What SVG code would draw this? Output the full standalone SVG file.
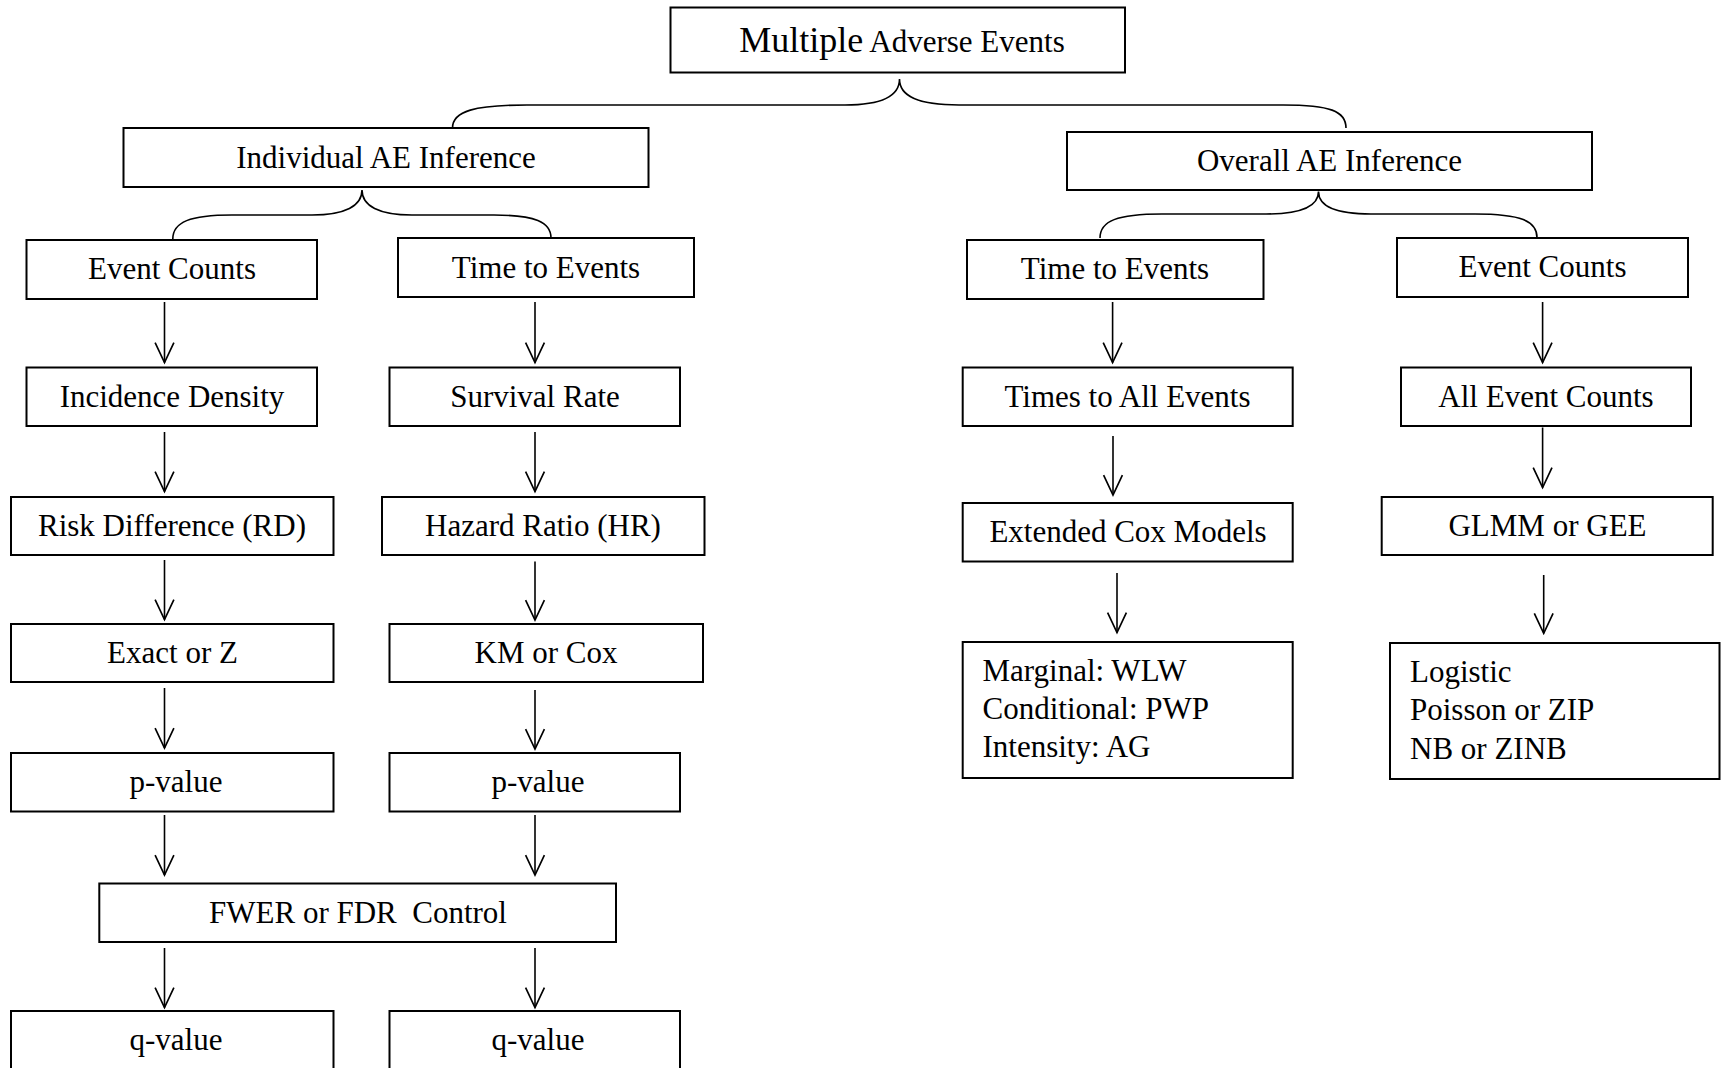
<svg xmlns="http://www.w3.org/2000/svg" width="1721" height="1068" viewBox="0 0 1721 1068">
<style>
.box{fill:#fff;stroke:#000;stroke-width:2}
.t{font-family:"Liberation Serif","Times New Roman",serif;font-size:31px;fill:#000;text-anchor:middle}
.tl{font-family:"Liberation Serif","Times New Roman",serif;font-size:31px;fill:#000}
.c{fill:none;stroke:#000;stroke-width:1.6}
</style>
<defs>
<marker id="ah" markerUnits="userSpaceOnUse" markerWidth="24" markerHeight="24" viewBox="-21 -11 23 22" refX="0" refY="0" orient="auto">
<path d="M-19,-9 L0,0 L-19,9" fill="none" stroke="#000" stroke-width="1.6"/>
</marker>
</defs>
<rect width="1721" height="1068" fill="#fff"/>
<g id="connectors">
<path class="c" d="M452.5 128 C452.5 111 475 105 527 105 L845 105 C882 105 899.5 96 899.5 79 C899.5 96 917 105 959 105 L1283 105 C1330 105 1346 111 1346 128"/>
<path class="c" d="M172.8 239 C172.8 222 190 215 232 215 L312 215 C345 215 362 206 362 190 C362 206 379 215 412 215 L494 215 C535 215 551 222 551 238"/>
<path class="c" d="M1100 238 C1100 221 1117 214 1162 214 L1266 214 C1301 214 1318.5 206 1318.5 191.5 C1318.5 206 1336 214 1371 214 L1475 214 C1521 214 1537 221 1537 237.7"/>
<g marker-end="url(#ah)" class="c">
<line x1="164.5" y1="302" x2="164.5" y2="362.5"/>
<line x1="164.5" y1="432" x2="164.5" y2="491.5"/>
<line x1="164.5" y1="560" x2="164.5" y2="619.5"/>
<line x1="164.5" y1="688" x2="164.5" y2="748"/>
<line x1="164.5" y1="815" x2="164.5" y2="875"/>
<line x1="164.5" y1="948" x2="164.5" y2="1007.5"/>
<line x1="535" y1="302" x2="535" y2="362.5"/>
<line x1="535" y1="432" x2="535" y2="491.5"/>
<line x1="535" y1="561.5" x2="535" y2="620"/>
<line x1="535" y1="690" x2="535" y2="749"/>
<line x1="535" y1="815" x2="535" y2="875"/>
<line x1="535" y1="948" x2="535" y2="1007.5"/>
<line x1="1112.6" y1="302" x2="1112.6" y2="362.5"/>
<line x1="1113" y1="436" x2="1113" y2="495"/>
<line x1="1117" y1="573" x2="1117" y2="632.5"/>
<line x1="1542.6" y1="302" x2="1542.6" y2="362.5"/>
<line x1="1542.6" y1="427.5" x2="1542.6" y2="487.5"/>
<line x1="1543.7" y1="575" x2="1543.7" y2="633.3"/>
</g>
</g>
<g id="n-root"><rect class="box" x="670.5" y="7.5" width="454.5" height="65"/><text class="t" x="902" y="52"><tspan font-size="36">Multiple</tspan> Adverse Events</text></g>
<g id="n-individual"><rect class="box" x="123.5" y="128" width="525" height="59"/><text class="t" x="386" y="168">Individual AE Inference</text></g>
<g id="n-overall"><rect class="box" x="1067" y="132" width="525" height="58"/><text class="t" x="1329.5" y="171">Overall AE Inference</text></g>
<g id="n-ec-l"><rect class="box" x="26.5" y="240" width="290.5" height="59"/><text class="t" x="172" y="279">Event Counts</text></g>
<g id="n-te-l"><rect class="box" x="398" y="238" width="296" height="59"/><text class="t" x="546" y="277.5">Time to Events</text></g>
<g id="n-te-r"><rect class="box" x="967" y="240" width="296.5" height="59"/><text class="t" x="1115" y="279">Time to Events</text></g>
<g id="n-ec-r"><rect class="box" x="1397" y="238" width="291" height="59"/><text class="t" x="1542.5" y="277">Event Counts</text></g>
<g id="n-incid"><rect class="box" x="26.5" y="367.5" width="290.5" height="58.5"/><text class="t" x="172" y="406.5">Incidence Density</text></g>
<g id="n-surv"><rect class="box" x="389.5" y="367.5" width="290.5" height="58.5"/><text class="t" x="535" y="406.5">Survival Rate</text></g>
<g id="n-times"><rect class="box" x="962.7" y="367.5" width="330" height="58.5"/><text class="t" x="1127.5" y="406.5">Times to All Events</text></g>
<g id="n-allec"><rect class="box" x="1401" y="367.5" width="290" height="58.5"/><text class="t" x="1546" y="406.5">All Event Counts</text></g>
<g id="n-rd"><rect class="box" x="11" y="497" width="322.5" height="58"/><text class="t" x="172" y="536">Risk Difference (RD)</text></g>
<g id="n-hr"><rect class="box" x="382" y="497" width="322.5" height="58"/><text class="t" x="543" y="536">Hazard Ratio (HR)</text></g>
<g id="n-cox"><rect class="box" x="962.7" y="503" width="330" height="58.5"/><text class="t" x="1128" y="542">Extended Cox Models</text></g>
<g id="n-glmm"><rect class="box" x="1381.7" y="497" width="331" height="58"/><text class="t" x="1547.5" y="536">GLMM or GEE</text></g>
<g id="n-exact"><rect class="box" x="11" y="624" width="322.5" height="58"/><text class="t" x="172.5" y="663">Exact or Z</text></g>
<g id="n-km"><rect class="box" x="389.5" y="624" width="313.5" height="58"/><text class="t" x="546" y="663">KM or Cox</text></g>
<g id="n-marg"><rect class="box" x="962.7" y="642" width="330" height="136"/><text class="tl" x="982.5" y="681">Marginal: WLW</text><text class="tl" x="982.5" y="719">Conditional: PWP</text><text class="tl" x="982.5" y="757">Intensity: AG</text></g>
<g id="n-logit"><rect class="box" x="1390" y="643" width="329.5" height="136"/><text class="tl" x="1410" y="682">Logistic</text><text class="tl" x="1410" y="720">Poisson or ZIP</text><text class="tl" x="1410" y="758.5">NB or ZINB</text></g>
<g id="n-p-l"><rect class="box" x="11" y="753" width="322.5" height="58.5"/><text class="t" x="176" y="792">p-value</text></g>
<g id="n-p-r"><rect class="box" x="389.5" y="753" width="290.5" height="58.5"/><text class="t" x="538" y="792">p-value</text></g>
<g id="n-fwer"><rect class="box" x="99.3" y="883.5" width="516.7" height="58.5"/><text class="t" x="358" y="922.5" xml:space="preserve">FWER or FDR  Control</text></g>
<g id="n-q-l"><rect class="box" x="11" y="1011" width="322.5" height="59"/><text class="t" x="176" y="1050">q-value</text></g>
<g id="n-q-r"><rect class="box" x="389.5" y="1011" width="290.5" height="59"/><text class="t" x="538" y="1050">q-value</text></g>
</svg>
